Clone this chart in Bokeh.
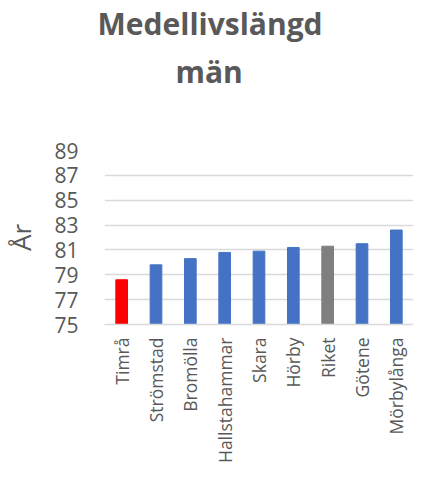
from bokeh.plotting import figure
from bokeh.models import Title, FixedTicker, ColumnDataSource
from bokeh.embed import file_html
from bokeh.resources import INLINE
import math

categories = ["Timrå", "Strömstad", "Bromölla", "Hallstahammar", "Skara",
              "Hörby", "Riket", "Götene", "Mörbylånga"]
values = [78.6, 79.8, 80.3, 80.8, 80.9, 81.2, 81.3, 81.5, 82.6]
y_ticks = [75, 77, 79, 81, 83, 85, 87, 89]
title_line1 = "Medellivslängd"
title_line2 = "män"
y_label = "År"

BLUE = "#4472C4"
highlight = {"Timrå": "#FF0000", "Riket": "#7F7F7F"}
colors = [highlight.get(c, BLUE) for c in categories]

src = ColumnDataSource(dict(cat=categories, val=values, color=colors))

FONT = "Open Sans"
TXT = "#595959"

p = figure(x_range=categories, y_range=(75, 89), width=413, height=478,
           output_backend="svg", toolbar_location=None, title=None,
           min_border_left=100, min_border_right=0, min_border_top=145,
           min_border_bottom=154)
p.outline_line_color = None
p.background_fill_color = "white"

p.vbar(x="cat", top="val", bottom=75, width=0.34, color="color", source=src)

# titles (spacer closest to the frame, then the two title lines)
spacer = Title(text=" ", text_font_size="1px", standoff=51)
t2 = Title(text=title_line2, align="left", offset=71, text_font=FONT,
           text_font_size="30px", text_font_style="bold", text_color=TXT,
           standoff=10)
t1 = Title(text=title_line1, align="left", offset=-7, text_font=FONT,
           text_font_size="30px", text_font_style="bold", text_color=TXT,
           standoff=0)
p.add_layout(spacer, "above")
p.add_layout(t2, "above")
p.add_layout(t1, "above")

# y axis
p.yaxis.ticker = FixedTicker(ticks=y_ticks)
p.yaxis.axis_line_color = None
p.yaxis.major_tick_line_color = None
p.yaxis.minor_tick_line_color = None
p.yaxis.major_tick_out = 0
p.yaxis.major_tick_in = 0
p.yaxis.minor_tick_out = 0
p.yaxis.major_label_text_font = FONT
p.yaxis.major_label_text_font_size = "21px"
p.yaxis.major_label_text_color = TXT
p.yaxis.major_label_standoff = 26
p.yaxis.axis_label = y_label
p.yaxis.axis_label_text_font = FONT
p.yaxis.axis_label_text_font_size = "26px"
p.yaxis.axis_label_text_font_style = "normal"
p.yaxis.axis_label_text_color = TXT
p.yaxis.axis_label_standoff = 12

# x axis
p.xaxis.axis_line_color = "#D9D9D9"
p.xaxis.axis_line_width = 1.3
p.xaxis.major_tick_line_color = None
p.xaxis.minor_tick_line_color = None
p.xaxis.major_tick_out = 0
p.xaxis.major_tick_in = 0
p.xaxis.minor_tick_out = 0
p.xaxis.major_label_orientation = math.pi / 2
p.xaxis.major_label_text_font = FONT
p.xaxis.major_label_text_font_size = "17.5px"
p.xaxis.major_label_text_color = TXT
p.xaxis.major_label_standoff = 13

p.xgrid.grid_line_color = None
p.ygrid.grid_line_color = "#D9D9D9"
p.ygrid.grid_line_width = 1.3

open("out.html", "w").write(file_html(p, INLINE))
